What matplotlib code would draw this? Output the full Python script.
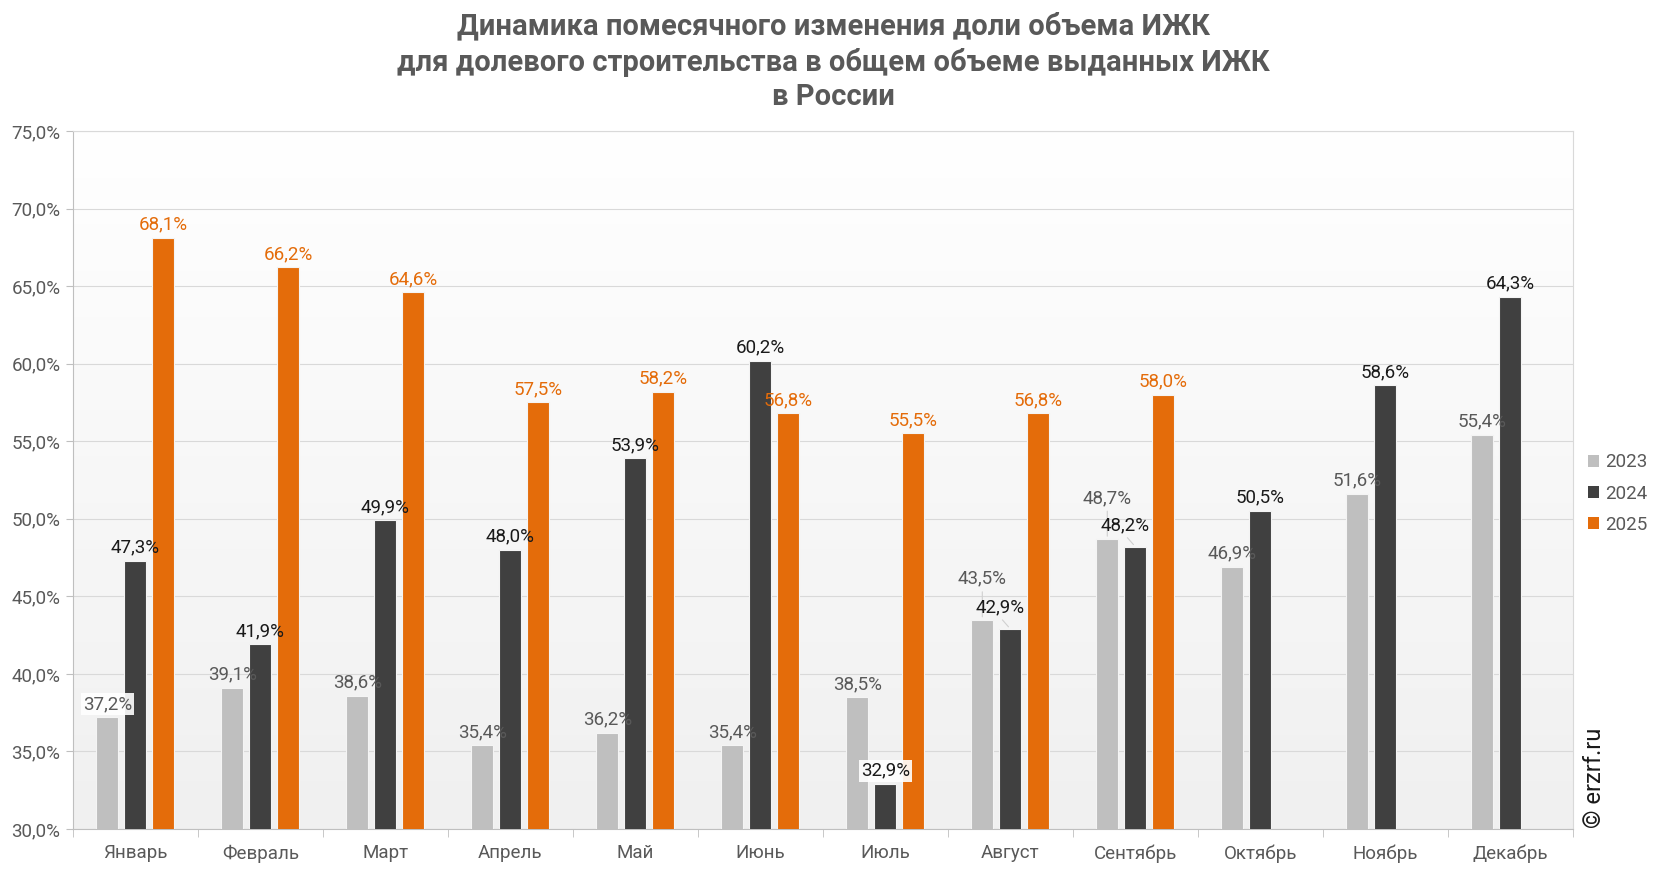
import numpy as np
import matplotlib.pyplot as plt
from matplotlib.colors import LinearSegmentedColormap
from matplotlib.patches import Patch

months = ['Январь', 'Февраль', 'Март', 'Апрель', 'Май', 'Июнь', 'Июль',
          'Август', 'Сентябрь', 'Октябрь', 'Ноябрь', 'Декабрь']
years = ['2023', '2024', '2025']
share_2023 = [37.2, 39.1, 38.6, 35.4, 36.2, 35.4, 38.5, 43.5, 48.7, 46.9, 51.6, 55.4]
share_2024 = [47.3, 41.9, 49.9, 48.0, 53.9, 60.2, 32.9, 42.9, 48.2, 50.5, 58.6, 64.3]
share_2025 = [68.1, 66.2, 64.6, 57.5, 58.2, 56.8, 55.5, 56.8, 58.0]

bar_colors = ['#bfbfbf', '#404040', '#e46c0a']
label_colors = ['#595959', '#1a1a1a', '#e46c0a']
grey_text = '#595959'

# manual nudges for crowded labels (series, month) -> (dx, dy) in points
label_shift = {(0, 7): (0, 20), (1, 7): (-7, 6),
               (0, 8): (0, 20), (1, 8): (-7, 6)}
boxed = {(0, 0), (1, 6)}

plt.rcParams['font.family'] = ['Roboto', 'DejaVu Sans']

fig = plt.figure(figsize=(16.66, 8.72), dpi=100)
ax = fig.add_axes([0.0438, 0.0493, 0.9002, 0.8005])

# gradient background of the plot area
grad = np.linspace(0, 1, 256).reshape(-1, 1)
ax.imshow(grad, extent=[-0.5, 11.5, 30, 75], aspect='auto', origin='upper',
          cmap=LinearSegmentedColormap.from_list('bg', ['#ffffff', '#f0f0f0']),
          zorder=0)

x = np.arange(len(months))
width = 0.176
step = 0.224
series = [share_2023, share_2024, share_2025]
for i, vals in enumerate(series):
    xs = x[:len(vals)] + (i - 1) * step
    bars = ax.bar(xs, vals, width, color=bar_colors[i], edgecolor='#f4f4f4',
                  linewidth=0.8, zorder=3)
    for j, (b, v) in enumerate(zip(bars, vals)):
        cx = b.get_x() + b.get_width() / 2
        dx, dy = label_shift.get((i, j), (0, 0))
        bbox = None
        if (i, j) in boxed:
            bbox = dict(boxstyle='square,pad=0.1', fc='white', ec='none', alpha=0.9)
        ax.annotate(f'{v:.1f}%'.replace('.', ','), (cx, v), xytext=(dx, dy + 3),
                    textcoords='offset points', ha='center', va='bottom',
                    fontsize=13.5, color=label_colors[i], zorder=4, bbox=bbox)
        if dy:
            # thin leader line from bar top to the moved label
            ax.annotate('', xy=(cx, v), xytext=(dx, dy + 2), textcoords='offset points',
                        arrowprops=dict(arrowstyle='-', color='#d0d0d0', lw=0.8),
                        zorder=4)

ax.set_xlim(-0.5, 11.5)
ax.set_ylim(30, 75)
ax.set_yticks(np.arange(30, 76, 5))
ax.set_yticklabels([f'{t:.1f}%'.replace('.', ',') for t in np.arange(30, 76, 5)],
                   fontsize=13.5, color=grey_text)
ax.yaxis.grid(True, color='#d9d9d9', linewidth=0.8, zorder=1)
ax.set_axisbelow(True)

ax.set_xticks(x)
ax.set_xticklabels(months, fontsize=13.5, color=grey_text)
ax.tick_params(axis='x', length=0, pad=11)
ax.set_xticks(np.arange(-0.5, 12, 1), minor=True)
ax.tick_params(axis='x', which='minor', length=6, color='#bfbfbf')
ax.tick_params(axis='y', length=5, color='#bfbfbf', pad=4)

for s in ax.spines.values():
    s.set_color('#d9d9d9')
ax.spines['bottom'].set_color('#bfbfbf')
ax.spines['left'].set_color('#bfbfbf')

fig.suptitle('Динамика помесячного изменения доли объема ИЖК\n'
             'для долевого строительства в общем объеме выданных ИЖК\n'
             'в России', x=0.5, y=0.986, fontsize=21, fontweight='bold',
             color=grey_text, linespacing=1.3)

handles = [Patch(facecolor=c) for c in bar_colors]
fig.legend(handles, years, loc='center left', bbox_to_anchor=(0.943, 0.434),
           frameon=False, fontsize=13.5, labelcolor=grey_text, handlelength=0.6,
           handleheight=0.6, handletextpad=0.3, labelspacing=0.7)

fig.text(0.957, 0.05, '© erzrf.ru', rotation=90, fontsize=17, color='#1a1a1a',
         ha='center', va='bottom')

fig.savefig('out.png', dpi=100)
